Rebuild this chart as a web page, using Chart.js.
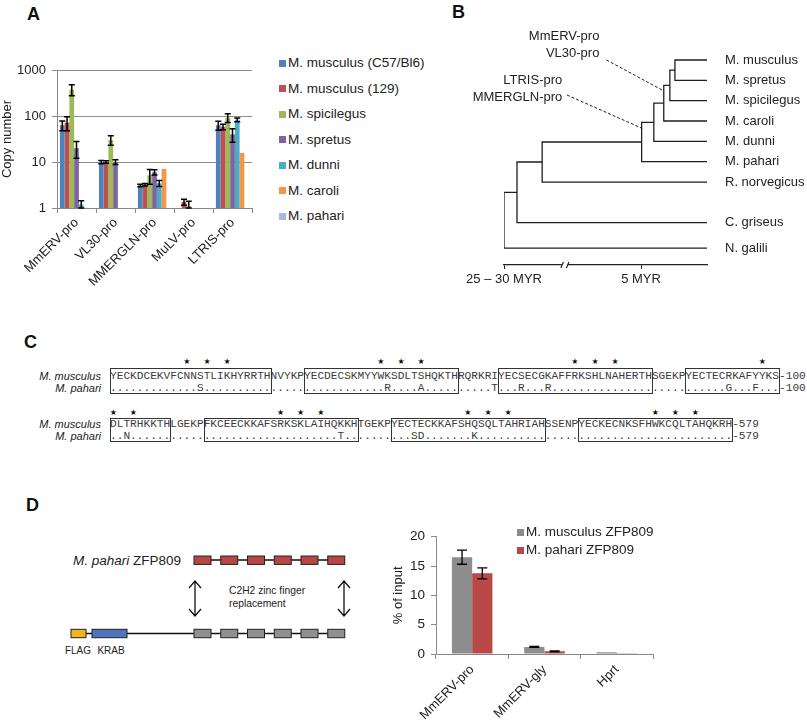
<!DOCTYPE html>
<html>
<head>
<meta charset="utf-8">
<title>ZFP809 figure</title>
<script src="https://cdn.jsdelivr.net/npm/chart.js@4.4.1/dist/chart.umd.min.js"></script>
<style>
  html, body { margin: 0; padding: 0; background: #fff; }
  body { position: relative; width: 807px; height: 724px; overflow: hidden;
         font-family: "Liberation Sans", Arial, sans-serif; color: #222; }
  canvas, .abs { position: absolute; }
  .tag { position: absolute; font-size: 18px; font-weight: bold; line-height: 18px; color: #111; }
  .sp { position: absolute; left: 0; width: 101px; text-align: right; font-style: italic; font-size: 11px; line-height: 12px; }
  .aa { position: absolute; font-family: "Liberation Mono", "Courier New", monospace; font-size: 11.15px; line-height: 12px; color: #3c3c3c; }
  .star { position: absolute; font-family: "DejaVu Sans", sans-serif; font-size: 8px; line-height: 8px; color: #111; transform: translate(-50%, -50%); }
  .zf { position: absolute; border: 1px solid #333; box-sizing: border-box; }
  .lg { position: absolute; font-size: 13.5px; line-height: 16px; white-space: nowrap; }
  .lgbox { position: absolute; width: 7px; height: 7px; }
</style>
</head>
<body>

<div class="tag" style="left:27px;top:4.5px">A</div>
<div class="tag" style="left:452px;top:2.5px">B</div>
<div class="tag" style="left:24px;top:332.5px">C</div>
<div class="tag" style="left:26px;top:495.5px">D</div>

<canvas id="chartA" width="270" height="330" style="left:0;top:0"></canvas>
<div id="legendA"></div>
<canvas id="chartB" width="367" height="300" style="left:440px;top:0"></canvas>
<div id="alignC"></div>
<canvas id="chartD" width="300" height="244" style="left:380px;top:480px"></canvas>
<div id="legendD"></div>

<!-- construct diagram of panel D -->
<svg class="abs" style="left:0;top:470px" width="380" height="254" font-family="Liberation Sans, Arial, sans-serif" fill="#222">
  <text x="73" y="94.7" font-size="13.5"><tspan font-style="italic">M. pahari</tspan> ZFP809</text>
  <line x1="194" y1="90" x2="345" y2="90" stroke="#111" stroke-width="1.3"/>
  <g id="redFingers" fill="#B64745" stroke="#222" stroke-width="1"></g>
  <path d="M189,118 L195,111 L201,118 M195,111 L195,146 M189,139 L195,146 L201,139
           M338,118 L344,111 L350,118 M344,111 L344,146 M338,139 L344,146 L350,139"
        fill="none" stroke="#111" stroke-width="1.3"/>
  <text x="229" y="124" font-size="10.3">C2H2 zinc finger</text>
  <text x="229" y="136.5" font-size="10.3">replacement</text>
  <line x1="71" y1="163.5" x2="345" y2="163.5" stroke="#111" stroke-width="1.3"/>
  <rect x="71" y="159.3" width="15" height="8.4" fill="#F0B41C" stroke="#222" stroke-width="1"/>
  <rect x="92" y="159.3" width="35" height="8.4" fill="#4E74BC" stroke="#222" stroke-width="1"/>
  <g id="grayFingers" fill="#909090" stroke="#222" stroke-width="1"></g>
  <text x="78" y="184" font-size="10" text-anchor="middle">FLAG</text>
  <text x="111" y="184" font-size="10" text-anchor="middle">KRAB</text>
</svg>

<script>
// ---------- Panel A: copy number per strain (log scale) ----------
const targetsA = ['MmERV-pro', 'VL30-pro', 'MMERGLN-pro', 'MuLV-pro', 'LTRIS-pro'];
const strainsA = ['M. musculus (C57/Bl6)', 'M. musculus (129)', 'M. spicilegus', 'M. spretus', 'M. dunni', 'M. caroli', 'M. pahari'];
const copyC57       = [63, 10, 3.1, null, 63];
const copy129       = [72, 10, 3.2, 1.35, 58];
const copySpicilegus = [375, 30, 5.1, 1.1, 92];
const copySpretus   = [20, 10, 6.0, null, 40];
const copyDunni     = [1.18, null, 3.45, null, 83];
const copyCaroli    = [null, null, 7.1, null, 15.8];
const copyPahari    = [null, null, null, null, null];
const errC57        = [15, 0.8, 0.2, null, 14];
const err129        = [24, 0.6, 0.2, 0.2, 8];
const errSpicilegus = [100, 7, 1.8, 0.3, 20];
const errSpretus    = [8, 1.2, 0.8, null, 13];
const errDunni      = [0.25, null, 0.5, null, 8];
const errCaroli     = [null, null, 0, null, 0];
const errPahari     = [null, null, null, null, null];
const logTicksA = [1, 10, 100, 1000];

// ---------- Panel B: phylogeny ----------
const tipNames = ['M. musculus', 'M. spretus', 'M. spicilegus', 'M. caroli', 'M. dunni', 'M. pahari', 'R. norvegicus', 'C. griseus', 'N. galili'];
const tipRows = [0, 1, 2, 3, 4, 5, 6, 8, 9.25];
// each join: two children (tips 0-8, then joins numbered from 9 on)
const cladeJoins  = [[0, 1], [9, 2], [10, 3], [11, 4], [12, 5], [13, 6], [14, 7], [15, 8]];
const cladeDepths = [84.2, 81.7, 78.7, 73.8, 67.8, 18.8, 6.4, 0];
const timeTicks = [0, 67.5];
const timeTickLabels = ['25 \u2013 30 MYR', '5 MYR'];
const noteGroups = [['MmERV-pro', 'VL30-pro'], ['LTRIS-pro', 'MMERGLN-pro']];

// ---------- Panel C: zinc finger alignment ----------
const seqMusculus = [
  'YECKDCEKVFCNNSTLIKHYRRTHNVYKPYECDECSKMYYWKSDLTSHQKTHRQRKRIYECSECGKAFFRKSHLNAHERTHSGEKPYECTECRKAFYYKS',
  'DLTRHKKTHLGEKPFKCEECKKAFSRKSKLAIHQKKHTGEKPYECTECKKAFSHQSQLTAHRIAHSSENPYECKECNKSFHWKCQLTAHQKRH'
];
const pahariChanges = [
  [[13, 'S'], [41, 'R'], [46, 'A'], [57, 'T'], [61, 'R'], [65, 'R'], [92, 'G'], [96, 'F']],
  [[2, 'N'], [34, 'T'], [45, 'S'], [46, 'D'], [54, 'K']]
];
const rowEnds = ['100', '579'];
const starSites = [[11, 14, 17, 40, 43, 46, 69, 72, 75, 97], [0, 3, 25, 28, 31, 53, 56, 59, 81, 84, 87]];
const fingerBoxes = [[[0, 24], [29, 52], [58, 81], [86, 100]], [[0, 9], [14, 37], [42, 65], [70, 93]]];

// ---------- Panel D: ChIP ----------
const targetsD = ['MmERV-pro', 'MmERV-gly', 'Hprt'];
const constructsD = ['M. musculus ZFP809', 'M. pahari ZFP809'];
const inputMusculus = [16.5, 1.2, 0.3];
const inputPahari   = [13.75, 0.45, 0.05];
const errMusculus   = [1.2, 0.08, 0];
const errPahariD    = [0.95, 0.08, 0];

// styles / layout
const strainColors = ['#4F81BD', '#C0504D', '#9BBB59', '#8064A2', '#4BACC6', '#F79646', '#A6B9DE'];
const zfpColors = ['#8D8D8D', '#B94846'];
const noteLayout = [
  { x: 47, rows: [-1.18, -0.34], link: [[50.5, 0], [78.7, 1.52]] },
  { x: 28.7, rows: [0.98, 1.82], link: [[31.0, 1.72], [67.8, 3.35]] }
];
const axisBreakAt = 30;

Chart.defaults.font.family = '"Liberation Sans", Arial, sans-serif';
Chart.defaults.color = '#222';

// error bars drawn from each dataset's "errors" array
const errorBars = {
  id: 'errorBars',
  afterDatasetsDraw(chart, args, opts) {
    const ctx = chart.ctx;
    ctx.save();
    ctx.strokeStyle = '#000';
    ctx.lineWidth = opts.width || 1.3;
    chart.data.datasets.forEach((ds, i) => {
      if (!ds.errors) return;
      const meta = chart.getDatasetMeta(i);
      const yScale = chart.scales[meta.yAxisID];
      meta.data.forEach((bar, j) => {
        const v = ds.data[j], e = ds.errors[j];
        if (v == null || !e) return;
        const yTop = yScale.getPixelForValue(v + e);
        const yBot = yScale.getPixelForValue(Math.max(v - e, yScale.min));
        const c = opts.cap || 3;
        ctx.beginPath();
        ctx.moveTo(bar.x, yTop); ctx.lineTo(bar.x, yBot);
        ctx.moveTo(bar.x - c, yTop); ctx.lineTo(bar.x + c, yTop);
        ctx.moveTo(bar.x - c, yBot); ctx.lineTo(bar.x + c, yBot);
        ctx.stroke();
      });
    });
    ctx.restore();
  }
};

// simple HTML legend (square + label) from names and colours
function buildLegend(hostId, names, colors, x, y0, step) {
  const host = document.getElementById(hostId);
  names.forEach((name, i) => {
    const yc = y0 + i * step;
    const box = document.createElement('div');
    box.className = 'lgbox';
    Object.assign(box.style, { left: x + 'px', top: (yc - 3.5) + 'px', background: colors[i] });
    host.appendChild(box);
    const t = document.createElement('div');
    t.className = 'lg';
    t.textContent = name;
    Object.assign(t.style, { left: (x + 9) + 'px', top: (yc - 8) + 'px' });
    host.appendChild(t);
  });
}

// ----- chart A -----
const seriesA = [copyC57, copy129, copySpicilegus, copySpretus, copyDunni, copyCaroli, copyPahari];
const errorsA = [errC57, err129, errSpicilegus, errSpretus, errDunni, errCaroli, errPahari];

new Chart(document.getElementById('chartA'), {
  type: 'bar',
  data: {
    labels: targetsA,
    datasets: seriesA.map((vals, i) => ({
      label: strainsA[i],
      data: vals,
      errors: errorsA[i],
      backgroundColor: strainColors[i],
      categoryPercentage: 0.85,
      barPercentage: 1
    }))
  },
  options: {
    responsive: false,
    animation: false,
    layout: { padding: { top: 70, left: 0, right: 18, bottom: 0 } },
    plugins: {
      legend: { display: false },
      tooltip: { enabled: false },
      errorBars: { cap: 3, width: 1.5 }
    },
    scales: {
      x: {
        grid: { offset: true, drawOnChartArea: false, color: '#888', tickLength: 5 },
        border: { color: '#888' },
        ticks: { minRotation: 45, maxRotation: 45, autoSkip: false, font: { size: 13 }, padding: 2 },
        afterFit: s => { s.height = 122; }
      },
      y: {
        type: 'logarithmic',
        min: 1,
        max: 1000,
        afterBuildTicks: s => { s.ticks = logTicksA.map(v => ({ value: v })); },
        ticks: { callback: v => String(v), font: { size: 13 }, padding: 6 },
        grid: { color: c => (c.tick && c.tick.value === 1 ? 'rgba(0,0,0,0)' : '#8c8c8c'), tickColor: '#888', tickLength: 5 },
        border: { color: '#888' },
        title: { display: true, text: 'Copy number', font: { size: 13 }, padding: 0 },
        afterFit: s => { s.width = 57; }
      }
    }
  },
  plugins: [errorBars]
});
buildLegend('legendA', strainsA, strainColors, 279, 63, 25.5);

// ----- chart B (tree) -----
const lineStyle = { showLine: true, pointRadius: 0, borderColor: '#1e1e1e', borderWidth: 1.3, fill: false, yAxisID: 'y' };
const nodeRow = tipRows.slice();
const nodeDepth = tipNames.map(() => 100);
const branchSets = [];
cladeJoins.forEach(([a, b], k) => {
  const d = cladeDepths[k];
  branchSets.push(Object.assign({
    data: [{ x: nodeDepth[a], y: nodeRow[a] }, { x: d, y: nodeRow[a] }, { x: d, y: nodeRow[b] }, { x: nodeDepth[b], y: nodeRow[b] }]
  }, lineStyle));
  nodeRow.push((nodeRow[a] + nodeRow[b]) / 2);
  nodeDepth.push(d);
});
const dashSets = noteLayout.map(n => Object.assign({}, lineStyle, {
  data: n.link.map(p => ({ x: p[0], y: p[1] })),
  borderWidth: 1,
  borderDash: [3, 2]
}));

const treeNotes = {
  id: 'treeNotes',
  afterDraw(chart) {
    const { ctx } = chart;
    const x = chart.scales.x, y = chart.scales.y;
    ctx.save();
    ctx.fillStyle = '#222';
    ctx.font = '13px "Liberation Sans", Arial, sans-serif';
    ctx.textAlign = 'right';
    ctx.textBaseline = 'middle';
    noteLayout.forEach((n, k) => {
      noteGroups[k].forEach((txt, m) => ctx.fillText(txt, x.getPixelForValue(n.x), y.getPixelForValue(n.rows[m])));
    });
    const bx = x.getPixelForValue(axisBreakAt), by = x.top;
    ctx.fillStyle = '#fff';
    ctx.fillRect(bx - 3, by - 2, 6, 4);
    ctx.strokeStyle = '#222';
    ctx.lineWidth = 1.2;
    ctx.beginPath();
    ctx.moveTo(bx - 4, by + 3); ctx.lineTo(bx - 1.5, by - 3);
    ctx.moveTo(bx + 1.5, by + 3); ctx.lineTo(bx + 4, by - 3);
    ctx.stroke();
    ctx.restore();
  }
};

new Chart(document.getElementById('chartB'), {
  type: 'scatter',
  data: { datasets: branchSets.concat(dashSets) },
  options: {
    responsive: false,
    animation: false,
    layout: { padding: { left: 64, top: 29.5, right: 0, bottom: 0 } },
    plugins: { legend: { display: false }, tooltip: { enabled: false } },
    scales: {
      x: {
        type: 'linear', min: 0, max: 100,
        afterBuildTicks: s => { s.ticks = timeTicks.map(v => ({ value: v })); },
        ticks: { callback: v => timeTickLabels[timeTicks.indexOf(v)], autoSkip: false, maxRotation: 0, font: { size: 13 }, padding: 3 },
        grid: { drawOnChartArea: false, tickLength: 4, color: '#222' },
        border: { color: '#222', width: 1.3 },
        afterFit: s => { s.height = 35; }
      },
      y: { type: 'linear', display: false, min: -1.5, max: 10.08, reverse: true },
      tips: {
        type: 'linear', position: 'right', min: -1.5, max: 10.08, reverse: true,
        afterBuildTicks: s => { s.ticks = tipRows.map(v => ({ value: v })); },
        ticks: { callback: v => tipNames[tipRows.indexOf(v)], autoSkip: false, font: { size: 13 }, padding: 18 },
        grid: { display: false, drawTicks: false },
        border: { display: false },
        afterFit: s => { s.width = 100; }
      }
    }
  },
  plugins: [treeNotes]
});

// ----- panel C (alignment as positioned text) -----
(function () {
  const host = document.getElementById('alignC');
  const x0 = 110, cw = 6.69;
  const rows = [
    { star: 362, mus: 376, pah: 388, boxTop: 368, boxBot: 393 },
    { star: 413, mus: 424, pah: 436, boxTop: 418, boxBot: 441 }
  ];
  const add = (cls, txt, style) => {
    const el = document.createElement('div');
    el.className = cls;
    el.textContent = txt;
    Object.assign(el.style, style);
    host.appendChild(el);
  };
  const putLine = (str, yc) => {
    for (let i = 0; i < str.length; i++) {
      add('aa', str[i], { left: (x0 + i * cw) + 'px', top: (yc - 6) + 'px' });
    }
  };
  rows.forEach((r, k) => {
    const mus = seqMusculus[k];
    const pah = mus.split('').map(() => '.');
    pahariChanges[k].forEach(([i, c]) => { pah[i] = c; });
    add('sp', 'M. musculus', { top: (r.mus - 6) + 'px' });
    add('sp', 'M. pahari', { top: (r.pah - 6) + 'px' });
    putLine(mus + '-' + rowEnds[k], r.mus);
    putLine(pah.join('') + '-' + rowEnds[k], r.pah);
    starSites[k].forEach(i => add('star', '\u2605', { left: (x0 + (i + 0.5) * cw) + 'px', top: r.star + 'px' }));
    fingerBoxes[k].forEach(([a, b]) => add('zf', '', {
      left: (x0 + a * cw) + 'px', width: ((b - a) * cw + 1) + 'px',
      top: r.boxTop + 'px', height: (r.boxBot - r.boxTop + 1) + 'px'
    }));
  });
})();

// ----- panel D diagram fingers -----
(function () {
  const ns = 'http://www.w3.org/2000/svg';
  const rows = [['redFingers', 86], ['grayFingers', 159.3]];
  rows.forEach(([id, y]) => {
    const g = document.getElementById(id);
    for (let i = 0; i < 6; i++) {
      const r = document.createElementNS(ns, 'rect');
      r.setAttribute('x', 194 + i * 26.75);
      r.setAttribute('y', y);
      r.setAttribute('width', 17);
      r.setAttribute('height', 8.4);
      g.appendChild(r);
    }
  });
})();

// ----- chart D -----
new Chart(document.getElementById('chartD'), {
  type: 'bar',
  data: {
    labels: targetsD,
    datasets: [
      { label: constructsD[0], data: inputMusculus, errors: errMusculus, backgroundColor: zfpColors[0], categoryPercentage: 0.56, barPercentage: 1 },
      { label: constructsD[1], data: inputPahari, errors: errPahariD, backgroundColor: zfpColors[1], categoryPercentage: 0.56, barPercentage: 1 }
    ]
  },
  options: {
    responsive: false,
    animation: false,
    layout: { padding: { top: 56.7, right: 27, left: 0, bottom: 0 } },
    plugins: { legend: { display: false }, tooltip: { enabled: false }, errorBars: { cap: 5, width: 1.3 } },
    scales: {
      x: {
        grid: { offset: true, drawOnChartArea: false, color: '#888', tickLength: 5 },
        border: { color: '#888' },
        ticks: { minRotation: 45, maxRotation: 45, autoSkip: false, font: { size: 13 }, padding: 3 },
        afterFit: s => { s.height = 70; }
      },
      y: {
        min: 0, max: 20,
        ticks: { stepSize: 5, font: { size: 13.5 }, padding: 6 },
        grid: { drawOnChartArea: false, color: '#888', tickLength: 5 },
        border: { color: '#888' },
        title: { display: true, text: '% of input', font: { size: 13 }, padding: { top: 11, bottom: 0 } },
        afterFit: s => { s.width = 56; }
      }
    }
  },
  plugins: [errorBars]
});
// legend for D sits over the plot, so it is placed by hand
buildLegend('legendD', constructsD, zfpColors, 517, 532, 18);
</script>
</body>
</html>
